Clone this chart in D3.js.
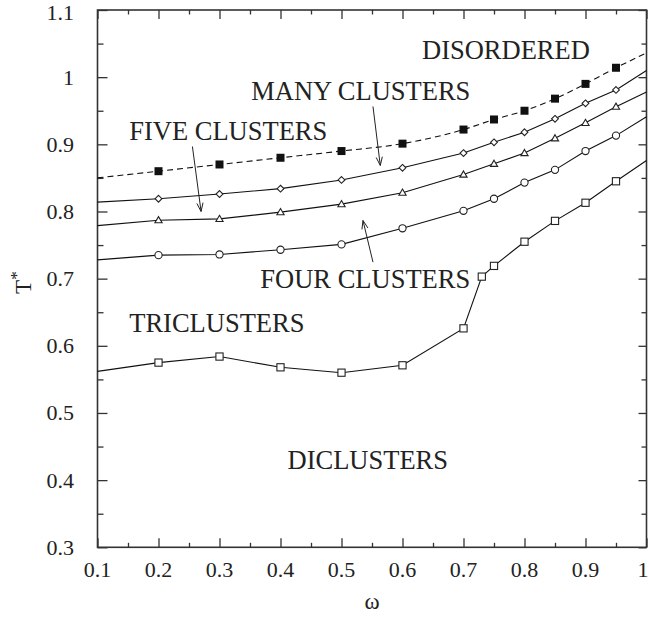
<!DOCTYPE html>
<html>
<head>
<meta charset="utf-8">
<script src="https://cdn.jsdelivr.net/npm/d3@7"></script>
<style>
  html, body { margin: 0; padding: 0; background: #fff; }
  svg text { font-family: "Liberation Serif", "Times New Roman", Times, serif; fill: #222; }
</style>
</head>
<body>
<svg id="chart" width="649" height="618"></svg>
<script>
// Phase boundaries T*(omega)
const omegaSet = [0.2, 0.3, 0.4, 0.5, 0.6, 0.7, 0.75, 0.8, 0.85, 0.9, 0.95];
const omegaDi  = [0.2, 0.3, 0.4, 0.5, 0.6, 0.7, 0.73, 0.75, 0.8, 0.85, 0.9, 0.95];
const edgeOmega = [0.1, 1.0];

const tDisordered = [0.860, 0.870, 0.880, 0.890, 0.901, 0.922, 0.937, 0.950, 0.968, 0.990, 1.014];
const tMany       = [0.819, 0.826, 0.834, 0.847, 0.865, 0.887, 0.903, 0.918, 0.938, 0.961, 0.981];
const tFive       = [0.787, 0.789, 0.799, 0.811, 0.828, 0.855, 0.871, 0.887, 0.909, 0.932, 0.956];
const tFour       = [0.735, 0.736, 0.743, 0.751, 0.775, 0.801, 0.819, 0.843, 0.862, 0.890, 0.913];
const tTri        = [0.575, 0.584, 0.568, 0.560, 0.571, 0.626, 0.703, 0.719, 0.755, 0.786, 0.813, 0.845];

// line values where each boundary meets the frame (omega = 0.1 and 1)
const edgeDisordered = [0.850, 1.036];
const edgeMany       = [0.814, 1.010];
const edgeFive       = [0.779, 0.978];
const edgeFour       = [0.728, 0.941];
const edgeTri        = [0.562, 0.876];

const xTicks = [0.1, 0.2, 0.3, 0.4, 0.5, 0.6, 0.7, 0.8, 0.9, 1];
const yTicks = [0.3, 0.4, 0.5, 0.6, 0.7, 0.8, 0.9, 1, 1.1];

// region names: [text, omega, T]
const regionLabels = [
  ["DISORDERED", 0.632, 1.027],
  ["MANY CLUSTERS", 0.352, 0.966],
  ["FIVE CLUSTERS", 0.152, 0.907],
  ["FOUR CLUSTERS", 0.367, 0.686],
  ["TRICLUSTERS", 0.152, 0.621],
  ["DICLUSTERS", 0.4115, 0.416]
];
// pointers: [omega0, T0, omega1, T1] with the head at the second point
const pointers = [
  [0.5516, 0.9564, 0.5636, 0.8685],
  [0.2556, 0.8968, 0.2698, 0.800],
  [0.5516, 0.7246, 0.5352, 0.7866]
];

const svg = d3.select("#chart");
const W = 649, H = 618;
const margin = { left: 97.5, top: 10, right: 2.5, bottom: 70.7 };
const iw = W - margin.left - margin.right;
const ih = H - margin.top - margin.bottom;

const x = d3.scaleLinear().domain([0.1, 1]).range([margin.left, margin.left + iw]);
const y = d3.scaleLinear().domain([0.3, 1.1]).range([margin.top + ih, margin.top]);

const axisColor = "#333";
const fmt = d => (d === 1 ? "1" : d3.format(".1f")(d));

// minor ticks every 0.05
const xMinor = d3.range(0.15, 1.0, 0.1);
const yMinor = d3.range(0.35, 1.1, 0.1);

function tickAxis(axisGen, tx, ty) {
  return svg.append("g").attr("transform", `translate(${tx},${ty})`).call(axisGen)
    .call(g => g.select(".domain").remove())
    .call(g => g.selectAll("line").attr("stroke", axisColor).attr("stroke-width", 1.3));
}

// major ticks (inward) on all four sides
tickAxis(d3.axisBottom(x).tickValues(xTicks).tickSize(-9).tickFormat(""), 0, margin.top + ih);
tickAxis(d3.axisTop(x).tickValues(xTicks).tickSize(-9).tickFormat(""), 0, margin.top);
tickAxis(d3.axisLeft(y).tickValues(yTicks).tickSize(-10).tickFormat(""), margin.left, 0);
tickAxis(d3.axisRight(y).tickValues(yTicks).tickSize(-8).tickFormat(""), margin.left + iw, 0);
// minor ticks
tickAxis(d3.axisBottom(x).tickValues(xMinor).tickSize(-4.5).tickFormat(""), 0, margin.top + ih);
tickAxis(d3.axisTop(x).tickValues(xMinor).tickSize(-4.5).tickFormat(""), 0, margin.top);
tickAxis(d3.axisLeft(y).tickValues(yMinor).tickSize(-6).tickFormat(""), margin.left, 0);
tickAxis(d3.axisRight(y).tickValues(yMinor).tickSize(-5).tickFormat(""), margin.left + iw, 0);

// tick labels (the outermost ones are nudged to stay inside the page)
svg.append("g").selectAll("text").data(xTicks).join("text")
  .attr("x", d => Math.min(x(d), W - 6)).attr("y", margin.top + ih + 30)
  .attr("text-anchor", "middle").attr("font-size", 22).text(fmt);
svg.append("g").selectAll("text").data(yTicks).join("text")
  .attr("x", 74).attr("y", d => Math.max(y(d) + 7.5, 20))
  .attr("text-anchor", "end").attr("font-size", 22).text(fmt);

// frame
svg.append("rect").attr("x", margin.left).attr("y", margin.top)
  .attr("width", iw).attr("height", ih)
  .attr("fill", "none").attr("stroke", axisColor).attr("stroke-width", 1.6);

// axis titles
svg.append("text").attr("transform", `translate(31,${(margin.top + ih / 2) + 4}) rotate(-90)`)
  .attr("text-anchor", "middle").attr("font-size", 23)
  .call(t => { t.append("tspan").text("T"); t.append("tspan").attr("dy", -9).attr("font-size", 17).text("*"); });
svg.append("text").attr("x", x(0.55)).attr("y", 609)
  .attr("text-anchor", "middle").attr("font-size", 23).text("ω");

// boundaries
const series = [
  { om: omegaSet, t: tDisordered, edge: edgeDisordered, mark: "filledSquare", dash: "6,4", curve: d3.curveMonotoneX },
  { om: omegaSet, t: tMany, edge: edgeMany, mark: "diamond", dash: null, curve: d3.curveLinear },
  { om: omegaSet, t: tFive, edge: edgeFive, mark: "triangle", dash: null, curve: d3.curveLinear },
  { om: omegaSet, t: tFour, edge: edgeFour, mark: "circle", dash: null, curve: d3.curveLinear },
  { om: omegaDi, t: tTri, edge: edgeTri, mark: "square", dash: null, curve: d3.curveLinear }
];

const plot = svg.append("g");
series.forEach(s => {
  const pts = s.om.map((o, i) => [o, s.t[i]]);
  const full = [[edgeOmega[0], s.edge[0]], ...pts, [edgeOmega[1], s.edge[1]]];
  plot.append("path").datum(full)
    .attr("d", d3.line().x(d => x(d[0])).y(d => y(d[1])).curve(s.curve))
    .attr("fill", "none").attr("stroke", "#111").attr("stroke-width", 1.1)
    .attr("stroke-dasharray", s.dash);

  const g = plot.append("g");
  const m = g.selectAll("g").data(pts).join("g")
    .attr("transform", d => `translate(${x(d[0])},${y(d[1])})`);
  if (s.mark === "filledSquare") {
    m.append("rect").attr("x", -4).attr("y", -4).attr("width", 8).attr("height", 8).attr("fill", "#111");
  } else if (s.mark === "square") {
    m.append("rect").attr("x", -3.6).attr("y", -3.6).attr("width", 7.2).attr("height", 7.2)
      .attr("fill", "#fff").attr("stroke", "#222").attr("stroke-width", 1.1);
  } else if (s.mark === "circle") {
    m.append("circle").attr("r", 3.6).attr("fill", "#fff").attr("stroke", "#222").attr("stroke-width", 1.1);
  } else if (s.mark === "diamond") {
    m.append("path").attr("d", "M0,-3.4L3.4,0L0,3.4L-3.4,0Z")
      .attr("fill", "#fff").attr("stroke", "#222").attr("stroke-width", 1.1);
  } else if (s.mark === "triangle") {
    m.append("path").attr("d", "M0,-3.6L3.6,2.6L-3.6,2.6Z")
      .attr("fill", "#fff").attr("stroke", "#222").attr("stroke-width", 1.1);
  }
});

// region names
svg.append("g").selectAll("text").data(regionLabels).join("text")
  .attr("x", d => x(d[1])).attr("y", d => y(d[2]))
  .attr("font-size", 26.5).text(d => d[0]);

// pointers with open heads
const ptr = svg.append("g").attr("stroke", "#222").attr("stroke-width", 1).attr("fill", "none");
pointers.forEach(p => {
  const x0 = x(p[0]), y0 = y(p[1]), x1 = x(p[2]), y1 = y(p[3]);
  ptr.append("line").attr("x1", x0).attr("y1", y0).attr("x2", x1).attr("y2", y1);
  const a = Math.atan2(y1 - y0, x1 - x0);
  const L = 9, spread = 0.35;
  const h1 = [x1 - L * Math.cos(a - spread), y1 - L * Math.sin(a - spread)];
  const h2 = [x1 - L * Math.cos(a + spread), y1 - L * Math.sin(a + spread)];
  ptr.append("path").attr("d", `M${h1[0]},${h1[1]}L${x1},${y1}L${h2[0]},${h2[1]}`);
});
</script>
</body>
</html>
